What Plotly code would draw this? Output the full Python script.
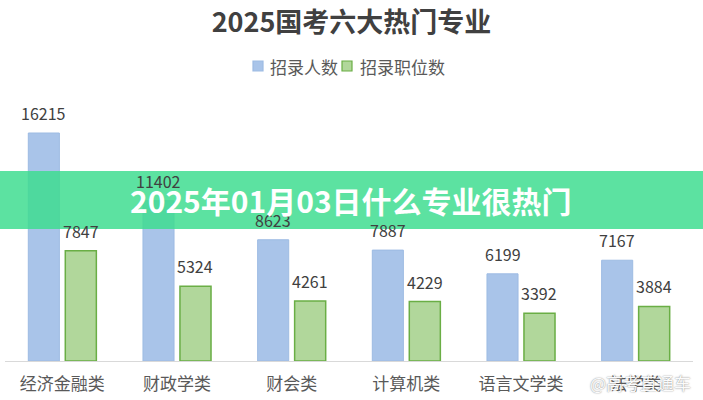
import plotly.graph_objects as go

categories = ["经济金融类", "财政学类", "财会类", "计算机类", "语言文学类", "法学类"]
recruit_people = [16215, 11402, 8623, 7887, 6199, 7167]
recruit_posts = [7847, 5324, 4261, 4229, 3392, 3884]
series_names = ["招录人数", "招录职位数"]
title_text = "2025国考六大热门专业"
banner_text = "2025年01月03日什么专业很热门"
watermark_text = "@高考直通车"

FONT = "Noto Sans CJK SC"
W, H = 703, 400
ML, MR, MT, MB = 5, 10, 100, 39
PW = W - ML - MR
PH = H - MT - MB

BLUE_FILL, BLUE_LINE = "#a9c4e9", "#9dbbe3"
GREEN_FILL, GREEN_LINE = "#b1d79b", "#6aae45"


def px_x(p):
    return (p - ML) / PW


def px_y(p):
    return (H - MB - p) / PH


fig = go.Figure()
fig.add_trace(go.Bar(
    x=categories, y=recruit_people, name=series_names[0], showlegend=False,
    marker=dict(color=BLUE_FILL, line=dict(color=BLUE_LINE, width=1)),
))
fig.add_trace(go.Bar(
    x=categories, y=recruit_posts, name=series_names[1], showlegend=False,
    marker=dict(color=GREEN_FILL, line=dict(color=GREEN_LINE, width=1.5)),
))

slot = PW / len(categories) * (1 - 0.355) / 2
annotations = []
for series, shift in ((recruit_people, -slot / 2), (recruit_posts, slot / 2)):
    for c, v in zip(categories, series):
        annotations.append(dict(
            x=c, y=v, xref="x", yref="y", text=str(v), showarrow=False,
            xshift=shift, yshift=20, yanchor="middle",
            font=dict(family=FONT, size=16, color="#404040"),
        ))

# manual legend (squares + real text)
shapes = []
legend_items = [(series_names[0], 253, 268, BLUE_FILL, BLUE_LINE),
                (series_names[1], 342, 358, GREEN_FILL, GREEN_LINE)]
for name, sq_x, tx_x, fill, line in legend_items:
    shapes.append(dict(type="rect", xref="paper", yref="paper",
                       x0=px_x(sq_x), x1=px_x(sq_x + 10), y0=px_y(71), y1=px_y(61),
                       fillcolor=fill, line=dict(color=line, width=1.2)))
    annotations.append(dict(
        x=px_x(tx_x), y=px_y(66), xref="paper", yref="paper", text=name,
        showarrow=False, xanchor="left", yanchor="middle",
        font=dict(family=FONT, size=17, color="#595959"),
    ))

# banner
shapes.append(dict(type="rect", xref="paper", yref="paper",
                   x0=px_x(-5), x1=px_x(W + 5), y0=px_y(229), y1=px_y(171),
                   fillcolor="rgba(61,220,143,0.84)", line=dict(width=0), layer="above"))
annotations.append(dict(
    x=px_x(351), y=px_y(200), xref="paper", yref="paper", text=banner_text,
    showarrow=False, xanchor="center", yanchor="middle",
    font=dict(family=FONT, size=30, color="white", weight=700),
))
# watermark
annotations.append(dict(
    x=px_x(588), y=px_y(382), xref="paper", yref="paper", text=watermark_text,
    showarrow=False, xanchor="left", yanchor="middle",
    font=dict(family=FONT, size=17, color="rgba(255,255,255,0.97)",
              shadow="0px 0px 1.5px #666666"),
))

fig.update_layout(
    width=W, height=H,
    margin=dict(l=ML, r=MR, t=MT, b=MB),
    paper_bgcolor="white", plot_bgcolor="white",
    barmode="group", bargap=0.355, bargroupgap=0.16,
    showlegend=False,
    title=dict(text=title_text, x=0.5, xanchor="center", y=1 - 23 / H,
               yanchor="middle", yref="container",
               font=dict(family=FONT, size=27, color="#404040", weight=700)),
    xaxis=dict(showline=True, linecolor="#d9d9d9", linewidth=1, ticks="",
               tickfont=dict(family=FONT, size=17, color="#595959"),
               ticklabelstandoff=8, showgrid=False),
    yaxis=dict(visible=False, range=[0, PH / (228 / 16215)], showgrid=False),
    annotations=annotations,
    shapes=shapes,
)

fig.write_html("out.html", config={"displayModeBar": False},
               post_script="document.body.style.margin='0';document.body.style.padding='0';")
